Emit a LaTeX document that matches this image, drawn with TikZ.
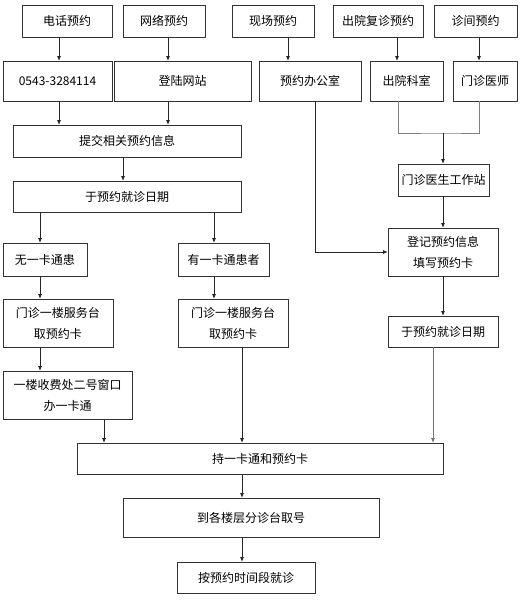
\documentclass[tikz,border=0pt]{standalone}
\usepackage{fontspec}
\setmainfont{Noto Sans CJK SC}
\usetikzlibrary{arrows.meta}

\begin{document}
\begin{tikzpicture}[x=1pt,y=-1pt,
  box/.style={draw=black!80,line width=0.7pt,inner sep=0pt,outer sep=0pt,align=center,font=\fontsize{12}{21}\selectfont},
  arr/.style={draw=black!85,line width=0.8pt,-{Latex[length=5pt,width=4pt]}},
  arrg/.style={arr,draw=black!55},
  ln/.style={draw=black!50,line width=0.8pt}]

\useasboundingbox[fill=white] (0,0) rectangle (521,603);

\node[box,minimum width=90pt,minimum height=32pt] (dh) at (67,21) {电话预约};
\node[box,minimum width=82pt,minimum height=32pt] (wl) at (164,21) {网络预约};
\node[box,minimum width=82pt,minimum height=32pt] (xc) at (273,21) {现场预约};
\node[box,minimum width=90pt,minimum height=32pt] (cy) at (378,21) {出院复诊预约};
\node[box,minimum width=83pt,minimum height=32pt] (zj) at (475.5,21) {诊间预约};

\node[box,minimum width=109pt,minimum height=40pt] (tel) at (57.5,81) {0543-3284114};
\node[box,minimum width=137pt,minimum height=40pt] (dl) at (182.5,81) {登陆网站};
\node[box,minimum width=102pt,minimum height=40pt] (bgs) at (310,81) {预约办公室};
\node[box,minimum width=73pt,minimum height=40pt] (cyks) at (406.5,81) {出院科室};
\node[box,minimum width=64pt,minimum height=40pt] (mzys) at (485,81) {门诊医师};

\node[box,minimum width=228pt,minimum height=32pt] (tj) at (127,141) {提交相关预约信息};
\node[box,minimum width=228pt,minimum height=31pt] (yy) at (127,196.5) {于预约就诊日期};
\node[box,minimum width=91pt,minimum height=32pt] (gzz) at (443.5,180) {门诊医生工作站};
\node[box,minimum width=110pt,minimum height=48pt] (dj) at (443,252) {登记预约信息\\填写预约卡};
\node[box,minimum width=110pt,minimum height=31pt] (yy2) at (443,331.5) {于预约就诊日期};

\node[box,minimum width=84pt,minimum height=33pt] (wu) at (45,259.5) {无一卡通患};
\node[box,minimum width=91pt,minimum height=33pt] (you) at (223.5,259.5) {有一卡通患者};
\node[box,minimum width=110pt,minimum height=48pt] (fw1) at (58,323) {门诊一楼服务台\\取预约卡};
\node[box,minimum width=110pt,minimum height=48pt] (fw2) at (233,323) {门诊一楼服务台\\取预约卡};
\node[box,minimum width=129pt,minimum height=48pt] (sf) at (67.5,395) {一楼收费处二号窗口\\办一卡通};

\node[box,minimum width=366pt,minimum height=31pt] (chi) at (260,458.5) {持一卡通和预约卡};
\node[box,minimum width=256pt,minimum height=39pt] (dao) at (251,517.5) {到各楼层分诊台取号};
\node[box,minimum width=138pt,minimum height=31pt] (an) at (246,577.5) {按预约时间段就诊};

\coordinate (a1) at (59,0);
\coordinate (a2) at (168,0);
\coordinate (a3) at (123,0);
\coordinate (a4) at (288,0);
\coordinate (a5) at (315,0);
\coordinate (a6) at (397,0);
\coordinate (a7) at (479,0);
\coordinate (a8) at (398,0);
\coordinate (hb) at (443,133);
\coordinate (c1) at (40,0);
\coordinate (c2) at (214,0);
\coordinate (c3) at (104,0);
\coordinate (c4) at (242,0);
\coordinate (c5) at (433,0);

\draw[arr] (dh.south -| a1) -- (tel.north -| a1);
\draw[arr] (wl.south -| a2) -- (dl.north -| a2);
\draw[arr] (xc.south -| a4) -- (bgs.north -| a4);
\draw[arr] (cy.south -| a6) -- (cyks.north -| a6);
\draw[arr] (zj.south -| a7) -- (mzys.north -| a7);
\draw[arr] (tel.south -| a1) -- (tj.north -| a1);
\draw[arr] (dl.south -| a2) -- (tj.north -| a2);
\draw[arr] (tj.south -| a3) -- (yy.north -| a3);
\draw[ln] (cyks.south -| a8) |- (hb) -| (mzys.south -| a7);
\draw[arr] (hb) -- (gzz.north -| hb);
\draw[arr] (gzz.south -| hb) -- (dj.north -| hb);
\draw[arr] (bgs.south -| a5) |- (dj.west);
\draw[arr] (dj.south -| hb) -- (yy2.north -| hb);
\draw[arrg] (yy2.south -| c5) -- (chi.north -| c5);
\draw[arr] (yy.south -| c1) -- (wu.north -| c1);
\draw[arr] (yy.south -| c2) -- (you.north -| c2);
\draw[arr] (wu.south -| c1) -- (fw1.north -| c1);
\draw[arr] (you.south -| c2) -- (fw2.north -| c2);
\draw[arr] (fw1.south -| c1) -- (sf.north -| c1);
\draw[arr] (sf.south -| c3) -- (chi.north -| c3);
\draw[arr] (fw2.south -| c4) -- (chi.north -| c4);
\draw[arr] (chi.south -| c4) -- (dao.north -| c4);
\draw[arr] (dao.south -| c4) -- (an.north -| c4);
\end{tikzpicture}
\end{document}
